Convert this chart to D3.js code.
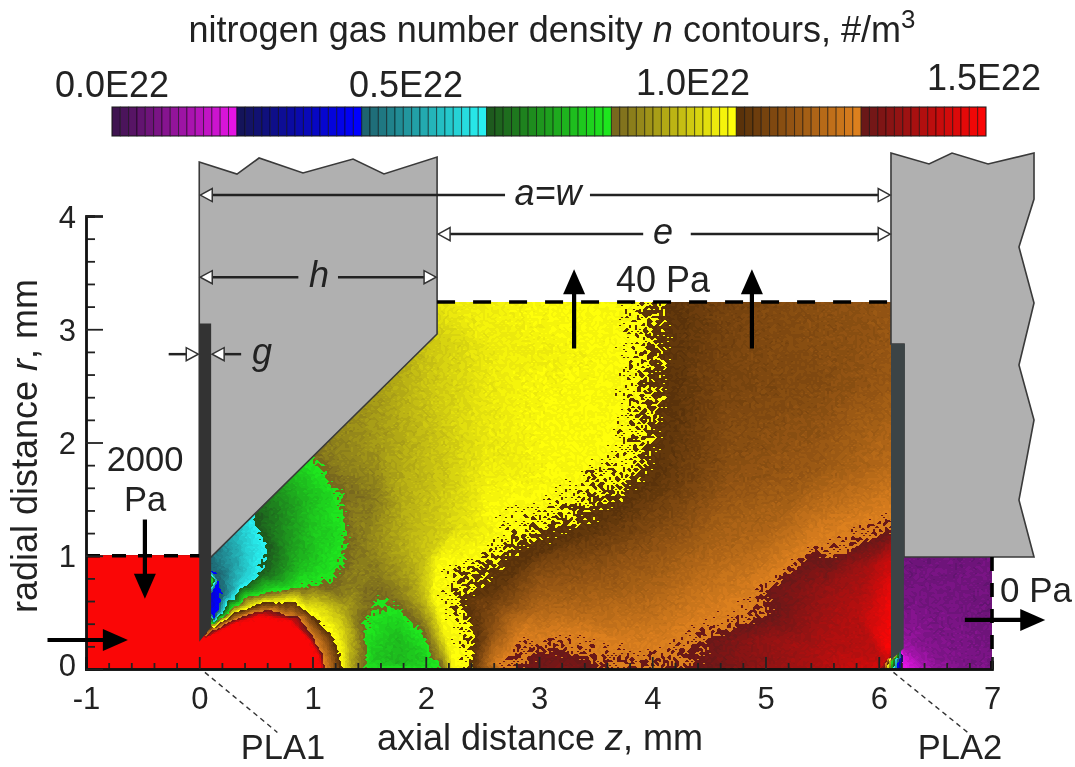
<!DOCTYPE html>
<html><head><meta charset="utf-8">
<script src="https://cdn.jsdelivr.net/npm/d3@7"></script>
<style>
html,body{margin:0;padding:0;background:#fff;overflow:hidden}
svg{display:block;font-family:"Liberation Sans",Arial,sans-serif;fill:#222;filter:blur(0.5px)}
</style></head><body><svg id="c" width="1075" height="767"></svg>
<script>
// ---------- axes ----------
const zMajor=[-1,0,1,2,3,4,5,6,7];
const zMinor=[-0.8,-0.6,-0.4,-0.2,0.2,0.4,0.6,0.8,1.2,1.4,1.6,1.8,2.2,2.4,2.6,2.8,3.2,3.4,3.6,3.8,4.2,4.4,4.6,4.8,5.2,5.4,5.6,5.8,6.2,6.4,6.6,6.8];
const rMajor=[0,1,2,3,4];
const rMinor=[0.2,0.4,0.6,0.8,1.2,1.4,1.6,1.8,2.2,2.4,2.6,2.8,3.2,3.4,3.6,3.8];
// ---------- colour key ----------
const bandDark=["#3f1450","#14145a","#1e6470","#1e5a1e","#78681e","#5a320a","#6a1818"];
const bandBright=["#e414e4","#0000ff","#28f0f0","#1ee61e","#ffff0a","#dc801e","#fa0606"];
const levelsPerBand=15;
const keyLabels=["0.0E22","0.5E22","1.0E22","1.5E22"];
// ---------- density, in colour-band units (1 band = 1.5E22/7) ----------
// lines of equal density: [z,r] in mm
const lineJet69=[[.05,.27],[.15,.32],[.3,.40],[.54,.47],[.8,.43],[.97,.26],[1.06,.11],[1.08,0]];
const lineJet6=[[.05,.285],[.15,.345],[.3,.43],[.54,.5],[.8,.46],[1,.28],[1.09,.12],[1.11,0]];
const lineJet5=[[.105,.375],[.18,.41],[.45,.54],[.71,.58],[.98,.49],[1.18,.28],[1.25,.05],[1.26,0]];
const lineGreenOuter4=[[.12,.39],[.3,.55],[.6,.67],[.89,.72],[1.05,.75],[1.18,.81],[1.27,.95],[1.3,1.14],[1.27,1.38],[1.2,1.58],[1.12,1.7],[1.02,1.83],[.96,1.87]];
const lineGreenEdge385=[[.95,1.75],[1.15,1.55],[1.2,1.2],[1.1,.95]];
const lineOliveEdge415=[[1.05,1.95],[1.25,1.75],[1.37,1.4],[1.42,1.1],[1.35,.85]];
const lineGreenInner3=[[.125,.41],[.3,.61],[.54,.85],[.6,1.05],[.49,1.33],[.45,1.4]];
const lineBlue2=[[.105,.87],[.17,.78],[.2,.65],[.16,.5],[.13,.44]];
const lineGreenBlob4=[[1.45,0],[1.45,.34],[1.48,.46],[1.55,.53],[1.63,.58],[1.75,.55],[1.85,.45],[1.95,.35],[2,.28],[2.13,.05],[2.14,0]];
const lineYellow493=[[2.25,0],[2.22,.19],[2.08,.63],[2.1,.95],[2.55,1.4],[3.15,1.65],[3.55,2],[3.62,2.2],[3.62,2.7],[3.68,3.3]];
const lineBrown5=[[2.41,0],[2.42,.19],[2.3,.63],[2.33,.85],[2.77,1.16],[3.36,1.43],[3.8,1.78],[3.92,2.17],[3.92,2.7],[3.98,3.3]];
const lineBrown507=[[2.53,.65],[2.95,1],[3.5,1.25],[4,1.62],[4.2,2.17],[4.2,2.7],[4.25,3.3]];
const lineOrange593=[[2.62,.05],[2.85,.33],[3.3,.34],[3.8,.24],[4.1,.24],[4.32,.4],[4.85,.68],[5.42,1.14],[6.15,1.45]];
const lineRed6=[[2.72,0],[2.75,.1],[2.95,.18],[3.3,.16],[3.8,.05],[4.1,.04],[4.4,.23],[4.98,.49],[5.57,.99],[6.15,1.25]];
// single readings: [z,r,level]
const plenumPoints=[[-1.1,-.1,7.5],[-1.1,.5,7.5],[-1.1,1.1,7.5],[-.5,0,7.5],[-.5,.5,7.5],[-.5,1.1,7.5],[.02,1.1,7.5],[.02,1,7.5],[.02,.8,7.5],[.02,.5,7.5],[.02,.3,7.5],[-1.1,3.4,7.5],[0,-.1,7.5]];
const jetPoints=[[0,0,7.5],[.5,0,7.5],[.9,0,7.5],[.3,.2,7.5],[.6,.25,7.5],[.85,.15,7.5]];
const nearPlatePoints=[[.105,.65,1.7],[.105,.5,1.8],[.105,1,2.1],[.3,.9,2.4],[.25,1.15,2.4],[.4,1.1,2.7],[.35,.75,2.7]];
const greenPoints=[[.8,1.1,3.45],[.75,1.6,3.5],[1,1.3,3.75],[.9,.9,3.7],[.9,1.5,3.6],[1.75,.05,3.65],[1.75,.3,3.7],[1.55,.1,3.75],[2,.08,3.8]];
const olivePoints=[[1.3,.3,4.6],[1.3,.55,4.35],[1.25,.65,4.15],[1.35,0,4.4],[1.4,.75,4.15],[1.6,.82,4.15],[1.75,.68,4.15],[1.9,.75,4.4],[1.98,.65,4.55],[2.17,.12,4.5],[1.55,1.5,4.15],[1.2,2.05,4.2],[1.6,2.45,4.35],[2.1,2.92,4.65],[1.6,2,4.35],[2,2.5,4.6],[1.8,1.4,4.45],[2,1,4.6],[2.3,1.3,4.75]];
const yellowPoints=[[3,2.2,4.93],[3,3.3,4.93],[2.5,2,4.8],[2.2,3.3,4.85],[2.6,2.8,4.85]];
const brownPoints=[[2.5,.1,5.4],[2.6,.35,5.4],[2.5,.6,5.2],[3,.5,5.7],[3,.9,5.3],[4.6,2.5,5.25],[4.6,3.3,5.2],[5.3,3.3,5.35],[6.15,3.3,5.45],[6.15,2.5,5.5],[5.5,2.5,5.35],[5.5,1.8,5.5],[6.15,1.8,5.72],[4.7,1.7,5.4],[4,1.1,5.4],[3.5,.9,5.4],[4.5,1,5.65],[5,1.2,5.65],[3.4,.5,5.7],[4,.5,5.75]];
const redPoints=[[3.2,0,6.15],[3.7,0,6.02],[4.1,0,6],[4.6,0,6.1],[5,.25,6.3],[5.5,.7,6.3],[5.5,.2,6.45],[5.8,.5,6.5],[5.9,.9,6.4],[6,.5,6.75],[6.08,.2,6.95],[6.115,.12,6.7],[6.115,.2,6.95],[6.115,.3,6.95],[6.115,.4,6.95],[6.115,.6,6.92],[6.115,.8,6.8],[6.115,1,6.6],[6,.1,6.55]];
const rainbowPoints=[[6,0,6.7],[6.04,0,6],[6.07,0,5],[6.1,0,4],[6.13,0,3],[6.16,0,2],[6.2,0,1],[6.27,0,.93],[6.06,.08,6.6],[6.1,.08,4.5],[6.21,.1,.9]];
const exitPoints=[[6.205,.99,.3],[6.205,1.1,.3],[7.1,1.05,.3],[6.205,.8,.32],[6.205,.6,.35],[6.205,.5,.38],[6.205,.4,.42],[6.205,.3,.48],[6.5,.5,.35],[7.1,-.1,.35],[6.5,0,.5],[6.35,0,.72],[6.3,.12,.6],[6.5,.15,.4],[6.205,.2,.6],[7.1,.5,.3],[7.1,3.4,.3]];
// ---------- geometry in mm ----------
const block1=[[0,4.477],[.333,4.37],[.528,4.512],[.916,4.38],[1.358,4.503],[1.631,4.371],[2.1,4.521],[2.1,2.958],[.104,.989],[0,.989]];
const block2=[[6.108,4.556],[6.444,4.459],[6.647,4.556],[6.965,4.459],[7.371,4.556],[7.371,4.15],[7.238,3.726],[7.371,3.232],[7.238,2.684],[7.371,2.199],[7.238,1.492],[7.371,.989],[6.223,.989],[6.223,2.87],[6.108,2.87]];
const plate1=[[0,.24],[.105,.37],[.105,3.05],[0,3.05]];
const plate2=[[6.108,.08],[6.22,.18],[6.23,2.87],[6.108,2.87]];
const flowDomain=[[-1,0],[7,0],[7,.99],[6.15,.99],[6.15,3.24],[2.1,3.24],[2.1,2.96],[.05,.94],[.05,1],[-1,1]];
const dashTop=[[2.1,3.24],[6.11,3.24]];
const dashInlet=[[-1,1],[0,1]];
const dashExit=[[7,.99],[7,0]];
const leaderLines=[[[.05,-.03],[.69,-.56]],[[6.13,-.03],[6.81,-.58]]];
const flowArrows=[[[3.31,2.83],[3.31,3.53]],[[4.88,2.83],[4.88,3.53]],[[-.48,1.32],[-.48,.62]],[[-1.34,.256],[-.63,.256]],[[6.76,.433],[7.47,.433]]];
const gaps=[[0,6.11,4.185,2.70,3.45],[2.1,6.11,3.84,3.92,4.34],[0,2.1,3.46,.875,1.225]];

// ---------- scales ----------
const x=d3.scaleLinear().domain([-1,7]).range([86,992]);
const y=d3.scaleLinear().domain([0,4]).range([669,216]);
const keyX=d3.scaleLinear().domain([0,1]).range([112,986]);
const svg=d3.select("#c");
const line=d3.line().x(d=>x(d[0])).y(d=>y(d[1]));
const palette=d3.range(bandDark.length*levelsPerBand).map(i=>{
  const b=Math.floor(i/levelsPerBand),t=(i%levelsPerBand)/(levelsPerBand-1);
  return d3.interpolateRgb(bandDark[b],bandBright[b])(t);
});

// ---------- field: triangulate readings, rasterise, contour with d3 ----------
const withLevel=(l,v)=>l.map(p=>[p[0],p[1],v]);
const samples=[].concat(plenumPoints,jetPoints,nearPlatePoints,greenPoints,olivePoints,yellowPoints,brownPoints,redPoints,rainbowPoints,exitPoints,
  withLevel(lineJet69,6.9),withLevel(lineJet6,6),withLevel(lineJet5,5),withLevel(lineGreenOuter4,4),withLevel(lineGreenEdge385,3.85),withLevel(lineOliveEdge415,4.15),withLevel(lineGreenInner3,3),withLevel(lineBlue2,2),
  withLevel(lineGreenBlob4,4),withLevel(lineYellow493,4.93),withLevel(lineBrown5,5),withLevel(lineBrown507,5.07),withLevel(lineOrange593,5.93),withLevel(lineRed6,6));
const del=d3.Delaunay.from(samples,d=>x(d[0]),d=>y(d[1]));
const cell=2,x0=x(-1),y0=y(3.3);
const nx=Math.ceil((x(7)-x0)/cell)+1,ny=Math.ceil((y(0)-y0)/cell)+1;
const grid=new Float64Array(nx*ny).fill(NaN);
const T=del.triangles;
for(let t=0;t<T.length;t+=3){
  const [a,b,c]=[T[t],T[t+1],T[t+2]];
  const ax=x(samples[a][0]),ay=y(samples[a][1]),bx=x(samples[b][0]),by=y(samples[b][1]),cx=x(samples[c][0]),cy=y(samples[c][1]);
  const det=(by-cy)*(ax-cx)+(cx-bx)*(ay-cy); if(Math.abs(det)<1e-9) continue;
  const i0=Math.max(0,Math.floor((Math.min(ax,bx,cx)-x0)/cell)),i1=Math.min(nx-1,Math.ceil((Math.max(ax,bx,cx)-x0)/cell));
  const j0=Math.max(0,Math.floor((Math.min(ay,by,cy)-y0)/cell)),j1=Math.min(ny-1,Math.ceil((Math.max(ay,by,cy)-y0)/cell));
  for(let j=j0;j<=j1;j++)for(let i=i0;i<=i1;i++){
    const px=x0+i*cell,py=y0+j*cell;
    const w1=((by-cy)*(px-cx)+(cx-bx)*(py-cy))/det,w2=((cy-ay)*(px-cx)+(ax-cx)*(py-cy))/det,w3=1-w1-w2;
    if(w1>=-1e-6&&w2>=-1e-6&&w3>=-1e-6) grid[i+j*nx]=w1*samples[a][2]+w2*samples[b][2]+w3*samples[c][2];
  }
}
// deterministic ordered dither that imitates the particle-method grain at band edges
const grain=(i,j)=>{const s=Math.sin(i*12.9898+j*78.233)*43758.5453;return s-Math.floor(s)-.5;};
for(let j=0;j<ny;j++)for(let i=0;i<nx;i++){
  let v=grid[i+j*nx]; if(isNaN(v)) v=samples[del.find(x0+i*cell,y0+j*cell)][2];
  grid[i+j*nx]=Math.min(6.999,v+.13*grain(i,j));
}
const thresholds=palette.map((_,i)=>i/levelsPerBand);
const contours=d3.contours().size([nx,ny]).smooth(false).thresholds(thresholds)(Array.from(grid));
svg.append("defs").append("clipPath").attr("id","flow").append("path").attr("d",line(flowDomain)+"Z");
const proj=d3.geoTransform({point(px,py){this.stream.point(x0+(px-.5)*cell,y0+(py-.5)*cell);}});
svg.append("g").attr("clip-path","url(#flow)").selectAll("path").data(contours).join("path")
  .attr("d",d3.geoPath(proj)).attr("fill",(d,i)=>palette[i]).attr("shape-rendering","crispEdges");

// ---------- walls ----------
svg.append("g").selectAll("path").data([block1,block2]).join("path").attr("d",d=>line(d)+"Z")
  .attr("fill","#b0b0b0").attr("stroke","#3a3a3a").attr("stroke-width",1.6).attr("stroke-linejoin","miter");
svg.append("g").selectAll("path").data([plate1,plate2]).join("path").attr("d",d=>line(d)+"Z")
  .attr("fill",(d,i)=>i?"#3c4446":"#333").attr("stroke","none");

// ---------- dashed boundaries, leaders ----------
const dashes=svg.append("g").attr("fill","none").attr("stroke","#000").attr("stroke-width",3.6);
dashes.append("path").attr("d",line(dashTop)).attr("stroke-dasharray","18 18");
dashes.append("path").attr("d",line(dashInlet)).attr("stroke-dasharray","14 12");
dashes.append("path").attr("d",line(dashExit)).attr("stroke-dasharray","14 12");
svg.append("g").selectAll("path").data(leaderLines).join("path").attr("d",line)
  .attr("fill","none").attr("stroke","#333").attr("stroke-width",1.4).attr("stroke-dasharray","5 4");

// ---------- axes ----------
const xa=svg.append("g").attr("transform",`translate(0,${y(0)})`);
xa.call(d3.axisBottom(x).tickValues(zMinor).tickSize(-6).tickFormat(""));
const xb=svg.append("g").attr("transform",`translate(0,${y(0)})`);
xb.call(d3.axisBottom(x).tickValues(zMajor).tickSize(-12).tickPadding(18).tickFormat(d=>String(d)));
const ya=svg.append("g").attr("transform",`translate(${x(-1)},0)`);
ya.call(d3.axisLeft(y).tickValues(rMinor).tickSize(-9).tickFormat(""));
const yb=svg.append("g").attr("transform",`translate(${x(-1)},0)`);
yb.call(d3.axisLeft(y).tickValues(rMajor).tickSize(-17).tickPadding(10).tickFormat(d=>String(d)));
svg.selectAll(".domain").attr("stroke","#111").attr("stroke-width",2.4);
svg.selectAll(".tick line").attr("stroke","#222").attr("stroke-width",1.8);
svg.selectAll(".tick text").attr("font-size",31).attr("fill","#222").attr("font-family","inherit");
yb.selectAll(".tick text").attr("dy",d=>d===0?"0.2em":"0.36em");
xb.selectAll(".tick text").attr("dy","0.71em");

// ---------- arrows ----------
function solidArrow(g,a,b){
  const p=[x(a[0]),y(a[1])],q=[x(b[0]),y(b[1])],L=Math.hypot(q[0]-p[0],q[1]-p[1]),ux=(q[0]-p[0])/L,uy=(q[1]-p[1])/L,hl=25,hw=11;
  g.append("line").attr("x1",p[0]).attr("y1",p[1]).attr("x2",q[0]-ux*hl*.8).attr("y2",q[1]-uy*hl*.8).attr("stroke","#000").attr("stroke-width",4.2);
  const bx=q[0]-ux*hl,by=q[1]-uy*hl;
  g.append("path").attr("d",`M${q}L${bx-uy*hw},${by+ux*hw}L${bx+uy*hw},${by-ux*hw}Z`).attr("fill","#000");
}
const ag=svg.append("g"); flowArrows.forEach(d=>solidArrow(ag,d[0],d[1]));
function openHead(g,px,py,dir){
  const l=12,w=6.5;
  g.append("path").attr("d",`M${px},${py}L${px-dir*l},${py-w}L${px-dir*l},${py+w}Z`).attr("fill","#fff").attr("stroke","#333").attr("stroke-width",1.5);
}
const dg=svg.append("g");
function hLine(a,b,yy){dg.append("line").attr("x1",a).attr("x2",b).attr("y1",yy).attr("y2",yy).attr("stroke","#222").attr("stroke-width",2.5);}
gaps.forEach(d=>{
  const yy=y(d[2]);
  hLine(x(d[0])+10,x(d[3]),yy); hLine(x(d[4]),x(d[1])-10,yy);
  openHead(dg,x(d[0])+1,yy,-1); openHead(dg,x(d[1])-1,yy,1);
});
{const yy=y(2.78);
 hLine(x(-.27),x(-.1),yy); openHead(dg,x(0)-1,yy,1);
 hLine(x(.22),x(.37),yy); openHead(dg,x(.105)+1,yy,-1);}

// ---------- colour key ----------
const cellW=(keyX(1)-keyX(0))/palette.length;
svg.append("g").selectAll("rect").data(palette).join("rect")
  .attr("x",(d,i)=>keyX(i/palette.length)).attr("y",107).attr("width",cellW).attr("height",29)
  .attr("fill",d=>d).attr("stroke","#000").attr("stroke-opacity",.5).attr("stroke-width",1);
svg.append("rect").attr("x",keyX(0)).attr("y",107).attr("width",keyX(1)-keyX(0)).attr("height",29).attr("fill","none").attr("stroke","#222").attr("stroke-opacity",.7).attr("stroke-width",1);

// ---------- text ----------
function label(px,py,parts,size,anchor){
  const t=svg.append("text").attr("x",px).attr("y",py).attr("font-size",size||36).attr("text-anchor",anchor||"middle").attr("fill","#222");
  parts.forEach(p=>{const s=t.append("tspan").text(p.t); if(p.i)s.attr("font-style","italic"); if(p.sup)s.attr("baseline-shift","super").attr("font-size",(size||36)*.72);});
  return t;
}
label(552,42,[{t:"nitrogen gas number density "},{t:"n",i:1},{t:" contours, #/m"},{t:"3",sup:1}]);
label(112,97,[{t:keyLabels[0]}]);
label(406,97,[{t:keyLabels[1]}]);
label(693,95,[{t:keyLabels[2]}]);
label(984,90,[{t:keyLabels[3]}]);
label(540,750,[{t:"axial distance "},{t:"z",i:1},{t:", mm"}]);
label(0,0,[{t:"radial distance "},{t:"r",i:1},{t:", mm"}]).attr("transform","translate(37,446) rotate(-90)");
label(548,205,[{t:"a=w",i:1}]);
label(663,244,[{t:"e",i:1}]);
label(319,287,[{t:"h",i:1}]);
label(262,364,[{t:"g",i:1}]);
label(663,292,[{t:"40 Pa"}]);
label(145,471,[{t:"2000"}],34.5);
label(145,511,[{t:"Pa"}],34.5);
label(1000,602,[{t:"0 Pa"}],35,"start");
label(283,759,[{t:"PLA1"}],34.5);
label(960,759,[{t:"PLA2"}],34.5);
</script></body></html>
